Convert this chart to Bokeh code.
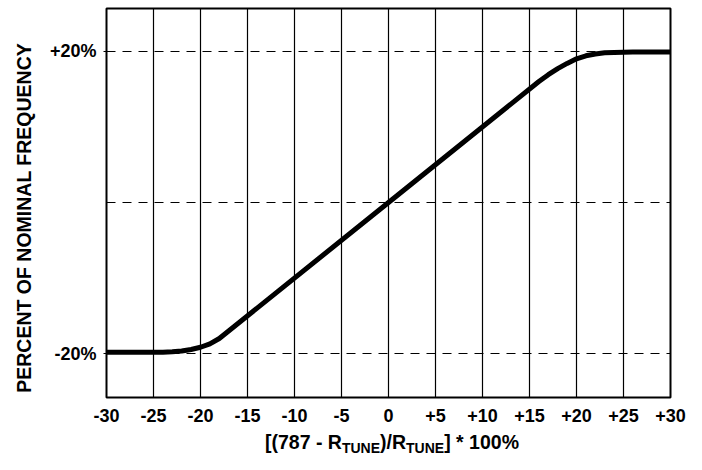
from bokeh.plotting import figure
from bokeh.layouts import column, row
from bokeh.models import FixedTicker, Range1d, Div
from bokeh.embed import file_html
from bokeh.resources import INLINE

# ---- data ----
x_vals = [-30, -28, -26, -24, -23, -22, -21, -20, -19, -18, 0, 16, 17, 18, 19, 20, 21, 22, 23, 24, 26, 28, 30]
y_vals = [-19.8, -19.8, -19.8, -19.8, -19.75, -19.65, -19.45, -19.15, -18.7, -18.0, 0, 16.0, 16.9, 17.7, 18.4, 19.0, 19.4, 19.65, 19.8, 19.85, 19.9, 19.9, 19.9]
x_ticks = [-30, -25, -20, -15, -10, -5, 0, 5, 10, 15, 20, 25, 30]
x_tick_labels = ["-30", "-25", "-20", "-15", "-10", "-5", "0", "+5", "+10", "+15", "+20", "+25", "+30"]
y_ticks = [-20, 20]
y_tick_labels = ["-20%", "+20%"]
y_grid = [-20, 0, 20]
y_title = "PERCENT OF NOMINAL FREQUENCY"
x_title_main = ["[(787 - R", ")/R", "] * 100%"]
x_title_sub = "TUNE"

X0, X1 = -30, 30
Y0, Y1 = -25.8, 25.66

FONT = "'Liberation Sans', Arial, sans-serif"
TOTAL_W = 686
LAB_W = 40            # width of the y-title strip
MAIN_H = 424          # height of the plot row
TITLE_H = 30          # height of the x-title strip
FL, FR, FT, FB = 106, 670, 8, 398   # frame edges in page px

# ---- main plot ----
p = figure(width=TOTAL_W - LAB_W, height=MAIN_H, output_backend="svg", toolbar_location=None,
           x_range=Range1d(X0, X1), y_range=Range1d(Y0, Y1),
           min_border_left=FL - LAB_W, min_border_right=TOTAL_W - FR,
           min_border_top=FT, min_border_bottom=MAIN_H - FB)
p.background_fill_color = "white"
p.border_fill_color = "white"
p.outline_line_color = "black"
p.outline_line_width = 2

p.xgrid.ticker = FixedTicker(ticks=x_ticks)
p.xgrid.grid_line_color = "black"
p.xgrid.grid_line_width = 1.2
p.ygrid.ticker = FixedTicker(ticks=y_grid)
p.ygrid.grid_line_color = "black"
p.ygrid.grid_line_width = 1
p.ygrid.grid_line_dash = "9 7"

p.xaxis.ticker = FixedTicker(ticks=x_ticks)
p.xaxis.major_label_overrides = {t: l for t, l in zip(x_ticks, x_tick_labels)}
p.yaxis.ticker = FixedTicker(ticks=y_ticks)
p.yaxis.major_label_overrides = {t: l for t, l in zip(y_ticks, y_tick_labels)}
for ax in (p.xaxis, p.yaxis):
    ax.axis_line_color = None
    ax.minor_tick_line_color = None
    ax.major_label_text_font = "Liberation Sans"
    ax.major_label_text_font_style = "bold"
    ax.major_label_text_font_size = "18px"
    ax.major_label_text_color = "black"
p.xaxis.major_tick_line_color = None
p.xaxis.major_label_standoff = 5
p.yaxis.major_tick_in = 0
p.yaxis.major_tick_out = 3
p.yaxis.major_tick_line_color = "black"
p.yaxis.major_label_standoff = 7

p.line(x_vals, y_vals, line_color="black", line_width=5, line_join="round", line_cap="round")

# ---- y title (rotated HTML text) ----
ylab_html = (
    f'<div style="position:relative;width:{LAB_W}px;height:{MAIN_H}px;">'
    f'<div style="position:absolute;left:24px;top:218px;transform:translate(-50%,-50%) rotate(-90deg);'
    f'white-space:nowrap;font-family:{FONT};font-weight:bold;font-size:19.5px;line-height:22px;color:black;">'
    f'{y_title}</div></div>'
)
py = Div(text=ylab_html, width=LAB_W, height=MAIN_H, margin=0, styles={"overflow": "visible"})

# ---- x title with subscripts (HTML text) ----
sub_style = "font-size:14px;vertical-align:-4px;line-height:0;"
x_html_inner = (f'{x_title_main[0]}<span style="{sub_style}">{x_title_sub}</span>'
                f'{x_title_main[1]}<span style="{sub_style}">{x_title_sub}</span>'
                f'{x_title_main[2]}')
cx = (FL + FR) / 2 + 4
pad_left = max(0, 2 * cx - TOTAL_W)
xlab_html = (
    f'<div style="box-sizing:border-box;width:{TOTAL_W}px;padding-left:{pad_left}px;padding-top:8px;'
    f'text-align:center;white-space:nowrap;font-family:{FONT};font-weight:bold;font-size:19.5px;'
    f'line-height:20px;color:black;">{x_html_inner}</div>'
)
pt = Div(text=xlab_html, width=TOTAL_W, height=TITLE_H, margin=0, styles={"overflow": "visible"})

layout = column(row(py, p), pt)
open("out.html", "w").write(file_html(layout, INLINE))
